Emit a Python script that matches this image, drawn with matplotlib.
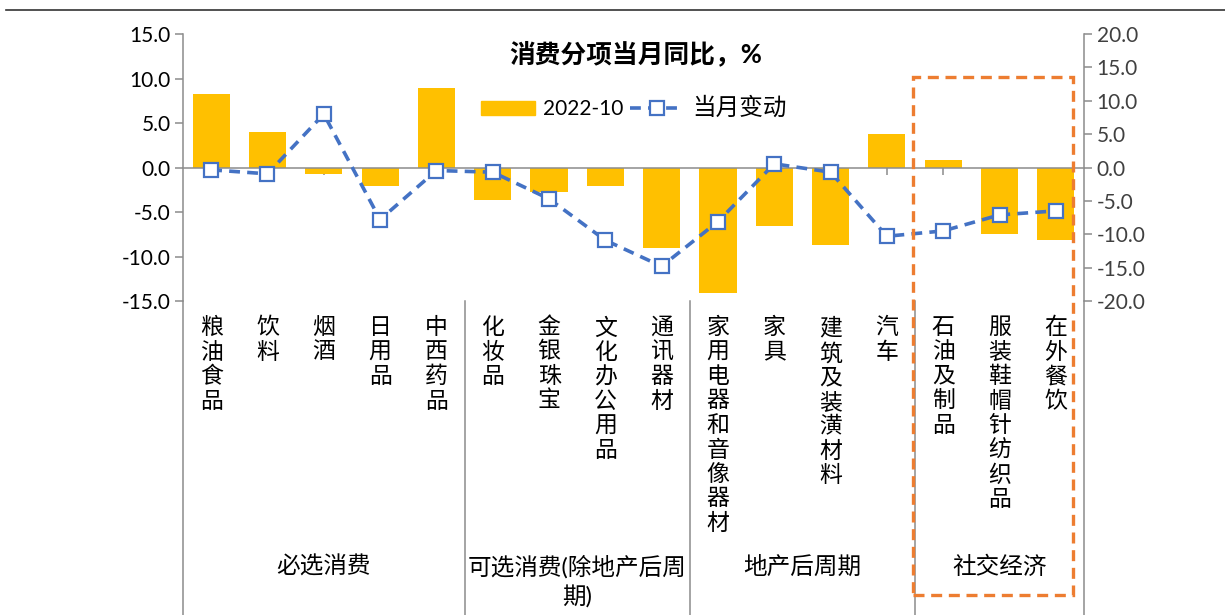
import numpy as np
import matplotlib
matplotlib.use('Agg')
import matplotlib.pyplot as plt
from matplotlib.patches import Rectangle
from matplotlib.lines import Line2D

plt.rcParams['font.family'] = ['Lato', 'Noto Sans CJK SC', 'DejaVu Sans']

# ── Data ────────────────────────────────────────────────────────────────────
categories = ['粮油食品', '饮料', '烟酒', '日用品', '中西药品',
              '化妆品', '金银珠宝', '文化办公用品', '通讯器材',
              '家用电器和音像器材', '家具', '建筑及装潢材料', '汽车',
              '石油及制品', '服装鞋帽针纺织品', '在外餐饮']
bar_vals = [8.3, 4.0, -0.75, -2.1, 8.9,
            -3.7, -2.7, -2.1, -9.0,
            -14.1, -6.6, -8.75, 3.8,
            0.85, -7.5, -8.2]          # 2022-10, left axis
line_vals = [-0.35, -0.95, 8.0, -7.8, -0.45,
             -0.7, -4.7, -10.9, -14.8,
             -8.1, 0.55, -0.7, -10.3,
             -9.5, -7.1, -6.5]         # 当月变动, right axis
groups = ['必选消费', '可选消费(除地产后周\n期)', '地产后周期', '社交经济']
group_edges = [0, 5, 9, 13, 16]        # category index boundaries

bar_color = '#FFC000'
line_color = '#4472C4'
grey = '#8c8c8c'

x = np.arange(len(categories))

fig = plt.figure(figsize=(12.25, 6.15), dpi=100)
ax = fig.add_axes([183/1225, 1 - 301/615, (1084-183)/1225, (301-34)/615])

ax.bar(x, bar_vals, width=0.66, color=bar_color, zorder=2)
ax.set_xlim(-0.5, len(categories) - 0.5)
ax.set_ylim(-15, 15)
ax.set_yticks(np.arange(-15, 16, 5))
ax.set_yticklabels([f'{v:.1f}' for v in np.arange(-15, 16, 5)])

# zero line as category axis with ticks at centres
ax.spines['bottom'].set_position(('data', 0))
ax.spines['top'].set_visible(False)
ax.spines['right'].set_visible(False)
for s in ['left', 'bottom']:
    ax.spines[s].set_color(grey)
    ax.spines[s].set_linewidth(1.1)
ax.set_xticks(x)
ax.set_xticklabels([])
ax.tick_params(axis='x', length=5, width=1.1, color=grey, direction='out')
ax.tick_params(axis='y', length=6, width=1.1, color=grey, labelsize=15, pad=3)

ax2 = ax.twinx()
ax2.plot(x, line_vals, ls='--', dashes=(3, 2), color=line_color, lw=2.6,
         marker='s', ms=10, mfc='white', mec=line_color, mew=1.6, zorder=3)
ax2.set_ylim(-20, 20)
ax2.set_yticks(np.arange(-20, 21, 5))
ax2.set_yticklabels([f'{v:.1f}' for v in np.arange(-20, 21, 5)])
for s in ['left', 'top', 'bottom']:
    ax2.spines[s].set_visible(False)
ax2.spines['right'].set_color(grey)
ax2.spines['right'].set_linewidth(1.1)
ax2.tick_params(axis='y', length=6, width=1.1, color=grey, labelsize=15, pad=3,
                labelcolor='#404040')

# ── Category labels (vertical text) ─────────────────────────────────────────
trans = ax.get_xaxis_transform()
for xi, name in zip(x, categories):
    ax.text(xi, -0.06, '\n'.join(name), transform=trans, ha='center',
            va='top', fontsize=16.5, linespacing=1.2)

bottom_y = -314 / 267
for e in group_edges:
    ax.plot([e - 0.5, e - 0.5], [0, bottom_y], transform=trans, color=grey,
            lw=1.1, clip_on=False)
for i, g in enumerate(groups):
    xc = (group_edges[i] + group_edges[i + 1]) / 2 - 0.5
    ax.text(xc, -0.952, g, transform=trans, ha='center', va='top',
            fontsize=17, linespacing=1.35)

# ── Title and legend ───────────────────────────────────────────────────────
ax.text(0.502, 0.929, '消费分项当月同比，%', transform=ax.transAxes,
        ha='center', va='center', fontsize=18.5, fontweight='bold')

handles = [Rectangle((0, 0), 1, 1, color=bar_color),
           Line2D([], [], ls='--', dashes=(3, 2), color=line_color, lw=2.6,
                  marker='s', ms=10, mfc='white', mec=line_color, mew=1.6)]
leg = ax2.legend(handles, ['2022-10', '当月变动'], ncol=2, frameon=False,
                 loc='center left',
                 bbox_to_anchor=((481-183)/902, (301-108)/267),
                 fontsize=15, handlelength=2.6, handletextpad=0.4,
                 columnspacing=0.3, borderpad=0, borderaxespad=0)
leg.get_texts()[1].set_fontsize(17)

# ── Decorations ────────────────────────────────────────────────────────────
fig.add_artist(Line2D([6/1225, 1], [1 - 10/615, 1 - 10/615],
                      transform=fig.transFigure, color='#333333', lw=1.2))
fig.add_artist(Rectangle((913/1225, 1 - 595/615), (1073-913)/1225,
                         (595-77)/615, transform=fig.transFigure, fill=False,
                         ec='#ED7D31', lw=2.4, ls=(0, (3.3, 2))))

fig.savefig('out.png', dpi=100)
